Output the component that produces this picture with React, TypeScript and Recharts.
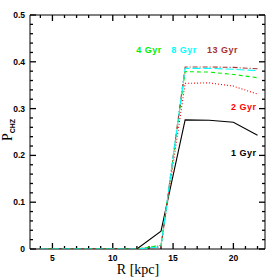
import React from "react";
import { LineChart, Line, XAxis, YAxis, ReferenceDot, ReferenceArea, ReferenceLine } from "recharts";

// radius in kpc
const radius = [4, 6, 8, 10, 12, 14, 16, 18, 20, 22];
const gyr1 = [0, 0, 0, 0, 0, 0.038, 0.276, 0.275, 0.271, 0.243];
const gyr2 = [0, 0, 0, 0, 0, 0.007, 0.354, 0.355, 0.348, 0.331];
const gyr4 = [0, 0, 0, 0, 0, 0.008, 0.379, 0.378, 0.373, 0.366];
const gyr8 = [0, 0, 0, 0, 0, 0.005, 0.386, 0.386, 0.384, 0.381];
const gyr13 = [0, 0, 0, 0, 0, 0.004, 0.389, 0.389, 0.388, 0.385];

const xTicks = [4, 5, 6, 7, 8, 9, 10, 11, 12, 13, 14, 15, 16, 17, 18, 19, 20, 21, 22];
const xMajor = [5, 10, 15, 20];
const yTicks = Array.from({ length: 26 }, (_, i) => +(i * 0.02).toFixed(2));
const yMajor = [0, 0.1, 0.2, 0.3, 0.4, 0.5];
const xDomain = [3.14, 22.62];
const yDomain = [0, 0.5];

const noteText = ["4 Gyr", "8 Gyr", "13 Gyr", "2 Gyr", "1 Gyr"];
const noteX = [13.0, 15.9, 19.1, 20.85, 20.85];
const noteY = [0.426, 0.426, 0.426, 0.303, 0.205];
const noteColor = ["#00ee00", "#00ffff", "#a83232", "#ff0000", "#000000"];

const data = radius.map((r, i) => ({
  r,
  g1: gyr1[i],
  g2: gyr2[i],
  g4: gyr4[i],
  g8: gyr8[i],
  g13: gyr13[i],
}));

const W = 279;
const H = 279;
const margin = { top: 15, right: 14, bottom: 0, left: 0 };
const xAxisH = 30;
const yAxisW = 30;
const plotW = W - margin.left - margin.right - yAxisW;
const plotH = H - margin.top - margin.bottom - xAxisH;
// tick lengths in pixels, turned into data units
const xPerPx = (xDomain[1] - xDomain[0]) / plotW;
const yPerPx = (yDomain[1] - yDomain[0]) / plotH;

const tickFont = { fontFamily: "Liberation Sans, Arial, sans-serif", fontWeight: "bold" as const, fontSize: 8.5 };

const isMajor = (list: number[], v: number) => list.some((m) => Math.abs(m - v) < 1e-6);

function BottomTick(props: any) {
  const { x, y, payload } = props;
  if (!isMajor(xMajor, payload.value)) return <g />;
  return (
    <text x={x} y={y + 12} textAnchor="middle" {...tickFont} fill="#000">
      {payload.value}
    </text>
  );
}

function LeftTick(props: any) {
  const { x, y, payload } = props;
  if (!isMajor(yMajor, payload.value)) return <g />;
  return (
    <text x={x - 5} y={y + 3} textAnchor="end" {...tickFont} fill="#000">
      {payload.value}
    </text>
  );
}

function YLabel(props: any) {
  const vb = props.viewBox;
  const cx = vb.x + 12;
  const cy = 130;
  return (
    <text transform={`translate(${cx},${cy}) rotate(-90)`} textAnchor="middle" fill="#000">
      <tspan fontFamily="Liberation Serif, serif" fontSize={14}>P</tspan>
      <tspan fontFamily="Liberation Sans, sans-serif" fontWeight="bold" fontSize={7} dy={3}>CHZ</tspan>
    </text>
  );
}

function XLabel(props: any) {
  const vb = props.viewBox;
  return (
    <text x={138} y={vb.y + 25} textAnchor="middle" fontFamily="Liberation Serif, serif" fontSize={14} fill="#000">
      R [kpc]
    </text>
  );
}

export default function App() {
  const xTickMarks = xTicks.flatMap((v) => {
    const len = (isMajor(xMajor, v) ? 6 : 3) * yPerPx;
    return [
      <ReferenceLine key={`xb${v}`} segment={[{ x: v, y: yDomain[0] }, { x: v, y: yDomain[0] + len }]} stroke="#000" strokeWidth={1.3} ifOverflow="visible" />,
      <ReferenceLine key={`xt${v}`} segment={[{ x: v, y: yDomain[1] }, { x: v, y: yDomain[1] - len }]} stroke="#000" strokeWidth={1.3} ifOverflow="visible" />,
    ];
  });
  const yTickMarks = yTicks.flatMap((v) => {
    const len = (isMajor(yMajor, v) ? 6 : 3) * xPerPx;
    return [
      <ReferenceLine key={`yl${v}`} segment={[{ x: xDomain[0], y: v }, { x: xDomain[0] + len, y: v }]} stroke="#000" strokeWidth={1.3} ifOverflow="visible" />,
      <ReferenceLine key={`yr${v}`} segment={[{ x: xDomain[1], y: v }, { x: xDomain[1] - len, y: v }]} stroke="#000" strokeWidth={1.3} ifOverflow="visible" />,
    ];
  });

  return (
    <div style={{ position: "fixed", left: 0, top: 0, width: W, height: H, background: "#fff" }}>
      <LineChart width={W} height={H} data={data} margin={margin}>
        <XAxis
          dataKey="r"
          type="number"
          domain={xDomain}
          ticks={xTicks}
          interval={0}
          tickSize={0}
          tickMargin={0}
          tickLine={false}
          axisLine={false}
          height={xAxisH}
          tick={<BottomTick />}
          label={<XLabel />}
          allowDataOverflow
        />
        <YAxis
          type="number"
          domain={yDomain}
          ticks={yTicks}
          interval={0}
          tickSize={0}
          tickMargin={0}
          tickLine={false}
          axisLine={false}
          width={yAxisW}
          tick={<LeftTick />}
          label={<YLabel />}
          allowDataOverflow
        />
        <ReferenceArea
          x1={xDomain[0]}
          x2={xDomain[1]}
          y1={yDomain[0]}
          y2={yDomain[1]}
          fill="none"
          stroke="#000"
          strokeWidth={1}
          ifOverflow="visible"
        />
        {xTickMarks}
        {yTickMarks}
        <Line dataKey="g1" stroke="#000000" strokeWidth={1.1} dot={false} isAnimationActive={false} />
        <Line dataKey="g2" stroke="#ff0000" strokeWidth={1.1} strokeDasharray="1 2" dot={false} isAnimationActive={false} />
        <Line dataKey="g4" stroke="#00ee00" strokeWidth={1.1} strokeDasharray="4 3" dot={false} isAnimationActive={false} />
        <Line dataKey="g13" stroke="#a83232" strokeWidth={1.1} strokeDasharray="5 2 1 2" dot={false} isAnimationActive={false} />
        <Line dataKey="g8" stroke="#00ffff" strokeWidth={1.1} strokeDasharray="8 3" dot={false} isAnimationActive={false} />
        {noteText.map((t, i) => (
          <ReferenceDot
            key={t}
            x={noteX[i]}
            y={noteY[i]}
            r={0}
            stroke="none"
            fill="none"
            label={{
              value: t,
              position: "center",
              fill: noteColor[i],
              fontSize: 9,
              fontWeight: "bold",
              fontFamily: "Liberation Sans, Arial, sans-serif",
              letterSpacing: 0.5,
            }}
          />
        ))}
      </LineChart>
    </div>
  );
}
